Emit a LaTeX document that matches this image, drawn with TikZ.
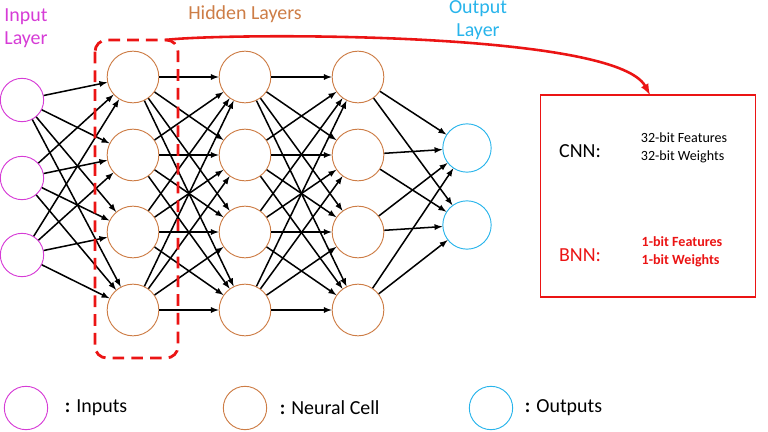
\documentclass[tikz,border=0pt]{standalone}
\usepackage{fontspec}
\setmainfont{Carlito}
\usetikzlibrary{calc}
\definecolor{inmag}{RGB}{214,60,214}
\definecolor{hidor}{RGB}{205,125,70}
\definecolor{outcy}{RGB}{40,180,235}
\definecolor{bred}{RGB}{235,20,20}
\begin{document}
\begin{tikzpicture}[x=0.03cm,y=-0.03cm,
  cell/.style={circle,draw,thick,minimum size=1.55cm,inner sep=0pt},
  link/.style={-latex,line width=1.3pt}]
\useasboundingbox (0,0) rectangle (768,432);
\fontsize{17}{20}\selectfont
% input layer
\foreach \i/\y in {1/100,2/178,3/255}
  \path (22,\y) node[cell,draw=inmag,minimum size=1.3cm](in-\i) {};
% hidden layers
\foreach \l/\x in {1/133,2/245,3/358}
  \foreach \i/\y in {1/77,2/155,3/232,4/310}
    \path (\x,\y) node[cell,draw=hidor](h\l-\i) {};
% outputs
\foreach \i/\y in {1/148,2/225}
  \path (467,\y) node[cell,draw=outcy,minimum size=1.45cm](out-\i) {};

\foreach \a in {1,2,3}
  \foreach \b in {1,2,3,4}
    \draw[link] (in-\a) -- (h1-\b);
\foreach \a in {1,2,3,4}
  \foreach \b in {1,2,3,4} {
    \draw[link] (h1-\a) -- (h2-\b);
    \draw[link] (h2-\a) -- (h3-\b);
  }
\foreach \a in {1,2,3,4}
  \foreach \b in {1,2}
    \draw[link] (h3-\a) -- (out-\b);

\path (26,28) node[text=inmag,align=center](in-label) {Input\\Layer};
\path (245,14) node[text=hidor](hid-label) {Hidden Layers};
\path (478,20) node[text=outcy,align=center](out-label) {Output\\Layer};

% binarized block
\draw[bred,line width=2.4pt,dash pattern=on 10pt off 6pt,rounded corners=10pt] (95,40) rectangle (178,358);
\coordinate (blk-top) at (165,40);
\path (648,196) node[draw=bred,line width=1.2pt,minimum width=6.45cm,minimum height=6.06cm](cmp) {};
\coordinate (cmp-top) at (650,95);
\draw[bred,line width=2.2pt,-latex] (blk-top) .. controls (220,33) and (615,30) .. (cmp-top);
\path (580,151) node(cnn) {CNN:};
\path (684,148) node[font=\fontsize{12}{15}\selectfont,align=left](cnn-txt) {32-bit Features\\32-bit Weights};
\path (580,255) node[text=bred](bnn) {BNN:};
\path (682,252) node[text=bred,font=\fontsize{12}{15}\selectfont\bfseries,align=left](bnn-txt) {1-bit Features\\1-bit Weights};

% legend
\path (26,408) node[cell,draw=inmag,minimum size=1.3cm](leg-in) {};
\path (58,408) node[anchor=west](leg-in-txt) {\textbf{:} Inputs};
\path (245,408) node[cell,draw=hidor,minimum size=1.3cm](leg-cell) {};
\path (273,408) node[anchor=west](leg-cell-txt) {\textbf{:} Neural Cell};
\path (491,408) node[cell,draw=outcy,minimum size=1.3cm](leg-out) {};
\path (518,408) node[anchor=west](leg-out-txt) {\textbf{:} Outputs};
\end{tikzpicture}
\end{document}
